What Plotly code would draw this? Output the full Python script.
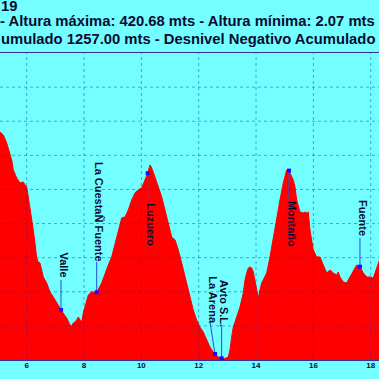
import plotly.graph_objects as go

# ---- profile data (km, metres) ----
dist_km = [5.00, 5.069, 5.184, 5.302, 5.418, 5.477, 5.533, 5.651, 5.766, 5.881, 5.941, 6.000,
           6.056, 6.115, 6.174, 6.230, 6.289, 6.349, 6.405, 6.464, 6.523, 6.579, 6.698, 6.813,
           6.928, 7.046, 7.161, 7.196, 7.277, 7.395, 7.510, 7.570, 7.625, 7.685, 7.744, 7.800,
           7.859, 7.918, 7.974, 8.033, 8.093, 8.149, 8.267, 8.382, 8.442, 8.616, 8.731, 8.846,
           8.965, 9.082, 9.195, 9.314, 9.431, 9.544, 9.662, 9.777, 9.893, 10.011, 10.126, 10.22,
           10.301, 10.360, 10.475, 10.590, 10.709, 10.824, 10.939, 11.058, 11.174, 11.289, 11.407,
           11.522, 11.637, 11.755, 11.811, 11.927, 12.042, 12.158, 12.276, 12.391, 12.508, 12.568,
           12.683, 12.80, 12.917, 13.032, 13.091, 13.150, 13.206, 13.325, 13.440, 13.555, 13.614,
           13.674, 13.730, 13.789, 13.848, 13.904, 13.963, 14.022, 14.078, 14.137, 14.197, 14.252,
           14.371, 14.486, 14.601, 14.720, 14.835, 14.950, 15.069, 15.124, 15.15, 15.184, 15.299,
           15.358, 15.417, 15.533, 15.648, 15.707, 15.766, 15.822, 15.881, 15.996, 16.115, 16.230,
           16.345, 16.464, 16.579, 16.694, 16.813, 16.868, 16.928, 17.043, 17.161, 17.276, 17.391,
           17.510, 17.625, 17.741, 17.859, 17.974, 18.089, 18.208, 18.288, 18.35]
alt_m = [337, 334.8, 329.9, 318.2, 303.5, 293.3, 278.6, 266.9, 259.5, 261.0, 256.6, 253.7,
         239.0, 224.3, 209.7, 190.6, 171.6, 149.6, 143.7, 142.2, 132.0, 121.7, 112.9, 99.7,
         92.4, 85.0, 76.2, 73.3, 68.9, 61.6, 51.3, 49.9, 54.3, 55.7, 58.7, 63.1,
         58.7, 55.7, 68.9, 77.7, 88.0, 95.3, 99.7, 100.1, 99.3, 112.9, 127.6, 139.3,
         151.0, 171.6, 190.6, 208.2, 209.7, 219.9, 234.6, 244.9, 249.3, 252.2, 263.9, 273.8,
         285.9, 281.5, 268.3, 253.7, 239.0, 219.9, 200.9, 180.4, 176.0, 161.3, 142.2,
         121.7, 102.6, 83.6, 73.3, 58.7, 48.4, 41.1, 29.3, 19.1, 11.7, 8.8,
         4.4, 2.5, 2.07, 4.4, 14.7, 33.7, 48.4, 63.1, 77.7, 98.2, 117.3,
         127.6, 134.9, 136.4, 134.9, 129.0, 117.3, 102.6, 90.9, 102.6, 112.9, 117.3,
         127.6, 151.0, 180.4, 209.7, 234.6, 259.5, 278.6, 278.6, 277.6, 274.2, 263.9,
         253.7, 234.6, 217.0, 215.5, 217.0, 215.5, 217.0, 190.6, 161.3, 151.0, 151.0,
         139.3, 127.6, 132.0, 127.6, 124.6, 129.0, 121.7, 114.4, 112.9, 121.7, 132.0,
         139.3, 136.8, 127.6, 121.7, 121.7, 120.2, 136.4, 146.6, 152]

# ---- waypoints ----
wp_names = ["Valle", "La CuestaÑ Fuente", "Luzuero", "La Arena", "Avto S.L.", "Montaño", "Fuente"]
wp_km = [7.196, 8.442, 10.22, 12.568, 12.80, 15.15, 17.625]
wp_alt = [73.3, 99.3, 273.8, 8.8, 2.5, 277.6, 136.8]

# label placement (layout): label km, label centre altitude, stem end altitude
label_km = [7.196, 8.442, 10.22, 12.40, 12.80, 15.15, 17.625]
label_alt = [138.6, 217.5, 198.0, 87.2, 82.8, 199.4, 208.2]
stem_end_alt = [117.3, 143.7, 233.0, 54.3, 48.4, 234.6, 178.9]

# ---- axes / title ----
x_ticks = [6, 8, 10, 12, 14, 16, 18]
x_tick_text = ["6", "8", "10", "12", "14", "16", "18"]
y_grid = [50, 100, 150, 200, 250, 300, 350, 400]
x_range = [5.069, 18.289]
y_range = [0, 450]
title_lines = ["19",
               "- Altura máxima: 420.68 mts - Altura mínima: 2.07 mts",
               "umulado 1257.00 mts - Desnivel Negativo Acumulado"]

BG = "#73FFFF"
TXT = "#0b0b33"
FONT = "Liberation Sans, Arial, sans-serif"

fig = go.Figure()
fig.add_trace(go.Scatter(x=dist_km, y=alt_m, mode="lines", fill="tozeroy",
                         fillcolor="#FF0000", line=dict(color="#FF0000", width=1),
                         hoverinfo="skip", showlegend=False))

# stems
sx, sy = [], []
for lk, wk, wa, se in zip(label_km, wp_km, wp_alt, stem_end_alt):
    sx += [wk, lk, None]
    sy += [wa, se, None]
fig.add_trace(go.Scatter(x=sx, y=sy, mode="lines", line=dict(color="#2050e0", width=1),
                         hoverinfo="skip", showlegend=False))
fig.add_trace(go.Scatter(x=wp_km, y=wp_alt, mode="markers",
                         marker=dict(color="#1010ff", size=4, symbol="square"),
                         hoverinfo="skip", showlegend=False))

for name, lk, la in zip(wp_names, label_km, label_alt):
    fig.add_annotation(x=lk, y=la, xref="x", yref="y", text=name, showarrow=False,
                       textangle=90, xshift=3,
                       font=dict(family=FONT, size=11, color=TXT, weight="bold"))

shifts = [47, 32, 14]
xshifts = [0, -1, 0]
for t, ys, xs in zip(title_lines, shifts, xshifts):
    fig.add_annotation(x=0, y=1, xref="paper", yref="paper", text=t, showarrow=False,
                       xanchor="left", yanchor="middle", yshift=ys, xshift=xs, borderpad=0,
                       font=dict(family=FONT, size=14.8, color=TXT, weight="bold"))

grid_style = dict(color="rgba(0,50,200,0.45)", width=1, dash="dot")
for xv in x_ticks:
    fig.add_shape(type="line", xref="x", yref="paper", x0=xv, x1=xv, y0=0, y1=1,
                  line=grid_style, layer="above")
for yv in y_grid:
    fig.add_shape(type="line", xref="paper", yref="y", x0=0, x1=1, y0=yv, y1=yv,
                  line=grid_style, layer="above")

fig.update_layout(
    width=379, height=379,
    margin=dict(l=0, r=0, t=53, b=19, pad=0),
    paper_bgcolor=BG, plot_bgcolor=BG,
    showlegend=False,
    xaxis=dict(range=x_range, tickvals=x_ticks, ticktext=x_tick_text, showgrid=False,
               zeroline=False, showline=True, mirror=True, linecolor="#3030a0", linewidth=1,
               ticks="", ticklabelstandoff=-3,
               tickfont=dict(family=FONT, size=8, color=TXT, weight="bold")),
    yaxis=dict(range=y_range, showgrid=False, zeroline=False, showticklabels=False,
               showline=False, ticks=""),
)

fig.write_html("out.html", config={"displayModeBar": False},
               post_script="document.body.style.margin='0px';document.body.style.overflow='hidden';")
